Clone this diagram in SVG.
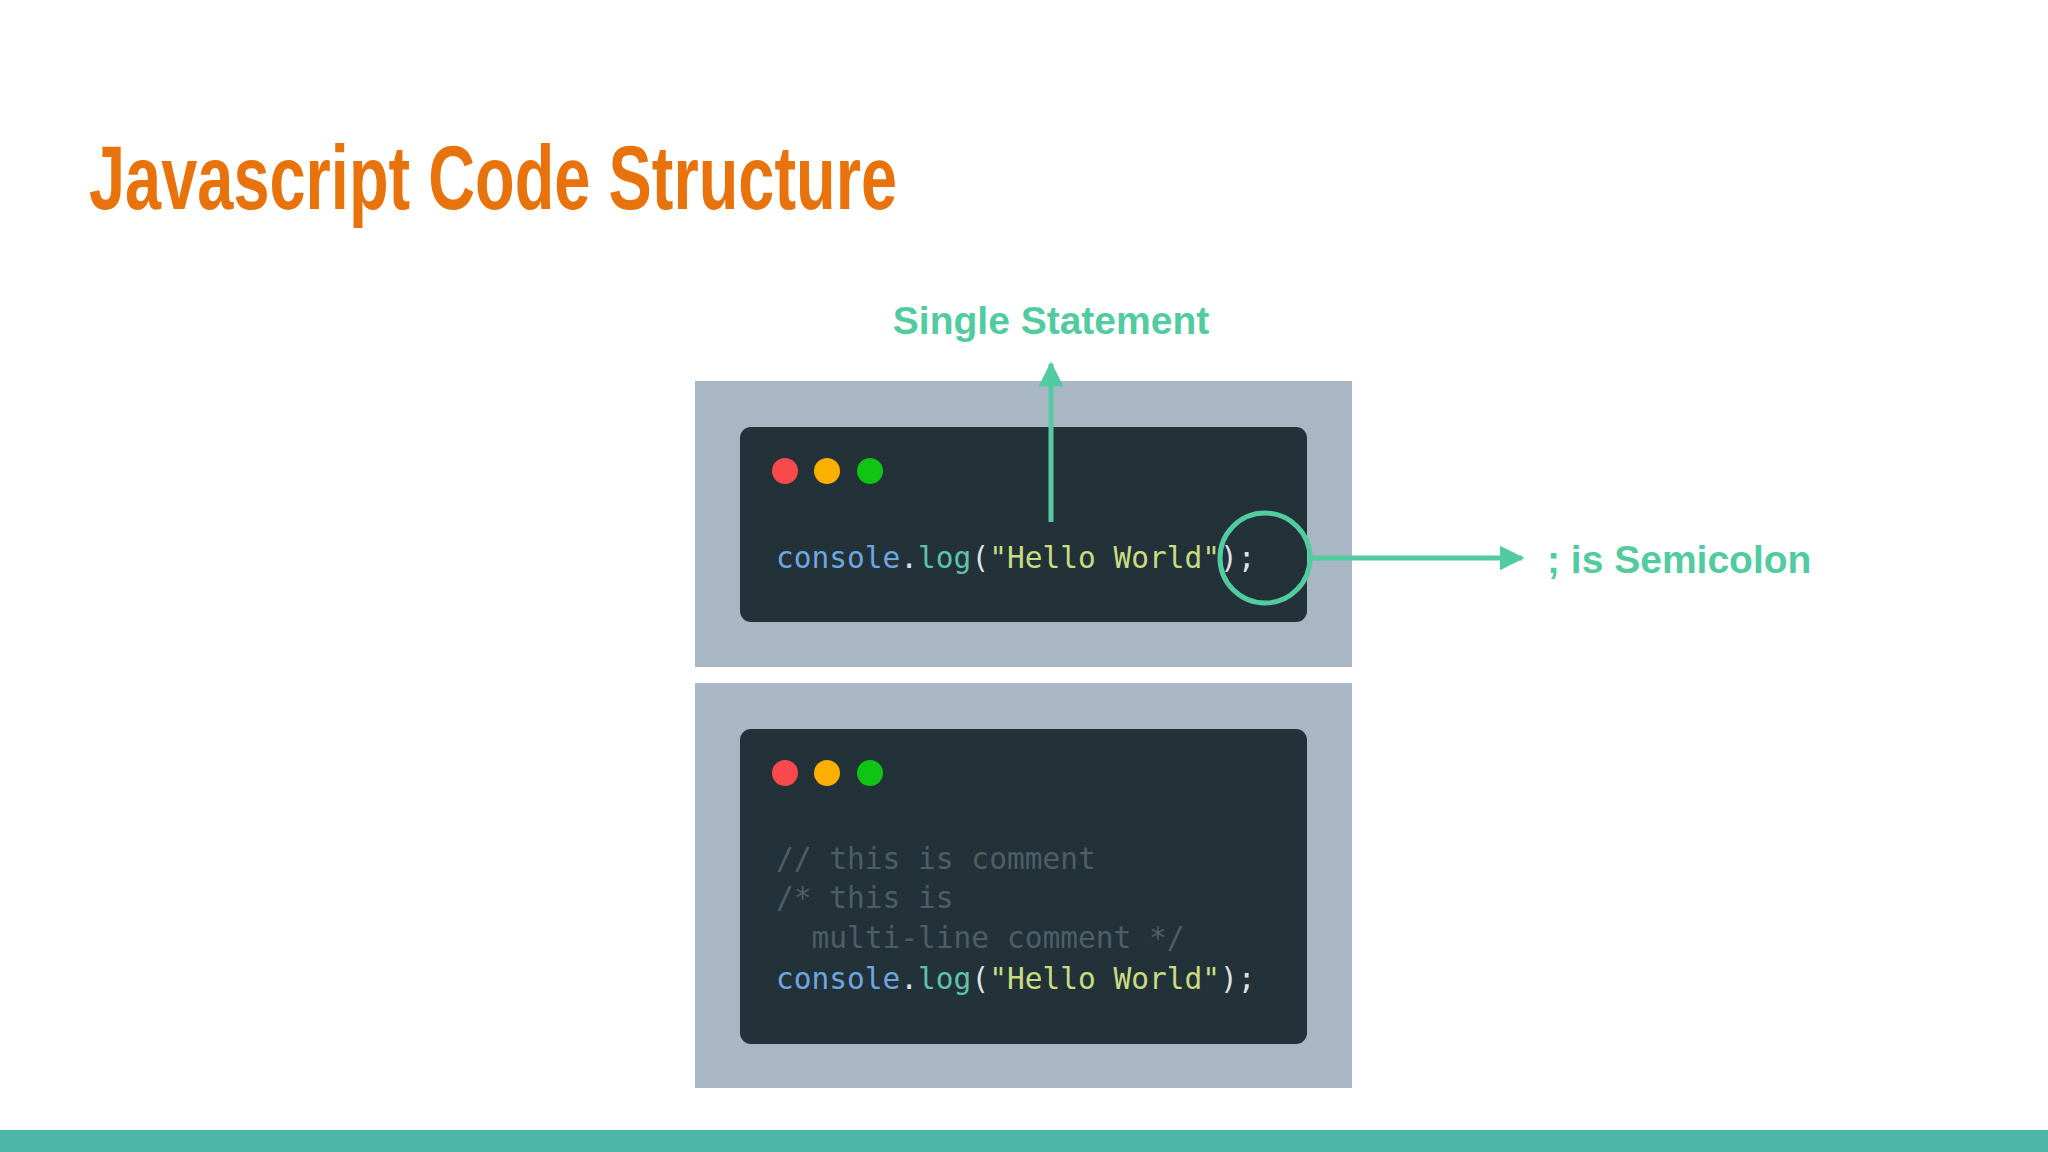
<svg xmlns="http://www.w3.org/2000/svg" width="2048" height="1152" viewBox="0 0 2048 1152">
<defs>
<style>
.code{font-family:"DejaVu Sans Mono","Liberation Mono",monospace;font-size:29.5px}
.c{fill:#6ea6e0}.l{fill:#5fc2ad}.s{fill:#c8dc82}.p{fill:#dfe3e6}.cm{fill:#4d5f66}
.lab{font-family:"Liberation Sans",Arial,sans-serif;font-weight:bold;font-size:39px;fill:#52cba0}
.panel{fill:#a9b7c4}.win{fill:#233139}
</style>
<marker id="ah" viewBox="0 0 10 10" refX="9" refY="5" markerWidth="5" markerHeight="5" orient="auto"><path d="M0,0 L10,5 L0,10 z" fill="#52cba0"/></marker>
</defs>
<rect width="2048" height="1152" fill="#fff"/>
<text x="89" y="209" font-family="Liberation Sans,Arial,sans-serif" font-weight="bold" font-size="90" fill="#e8720c" textLength="808" lengthAdjust="spacingAndGlyphs">Javascript Code Structure</text>
<g id="top">
<rect class="panel" x="695" y="381" width="657" height="286"/>
<rect class="win" x="740" y="427" width="567" height="195" rx="11"/>
<circle cx="785" cy="471" r="13" fill="#f84a4a"/><circle cx="827" cy="471" r="13" fill="#fbb000"/><circle cx="870" cy="471" r="13" fill="#10c414"/>
<text class="code" x="776" y="568"><tspan class="c">console</tspan><tspan class="p">.</tspan><tspan class="l">log</tspan><tspan class="p">(</tspan><tspan class="s">"Hello World"</tspan><tspan class="p">);</tspan></text>
<circle cx="1265" cy="558" r="45" fill="none" stroke="#52cba0" stroke-width="5"/>
</g>
<g id="bottom">
<rect class="panel" x="695" y="683" width="657" height="405" fill="#a8b2c2"/>
<rect class="win" x="740" y="729" width="567" height="315" rx="11" fill="#21323a"/>
<circle cx="785" cy="773" r="13" fill="#f84a4a"/><circle cx="827" cy="773" r="13" fill="#fbb000"/><circle cx="870" cy="773" r="13" fill="#10c414"/>
<text class="code cm" x="776" y="869">// this is comment</text>
<text class="code cm" x="776" y="908">/* this is</text>
<text class="code cm" x="776" y="948" xml:space="preserve">  multi-line comment */</text>
<text class="code" x="776" y="989"><tspan class="c">console</tspan><tspan class="p">.</tspan><tspan class="l">log</tspan><tspan class="p">(</tspan><tspan class="s">"Hello World"</tspan><tspan class="p">);</tspan></text>
</g>
<g id="connectors" stroke="#52cba0" stroke-width="5" fill="none">
<line x1="1051" y1="522" x2="1051" y2="364" marker-end="url(#ah)"/>
<line x1="1310" y1="558" x2="1522" y2="558" marker-end="url(#ah)"/>
</g>
<g id="labels">
<text class="lab" x="1051" y="334" text-anchor="middle">Single Statement</text>
<text class="lab" x="1547" y="573">; is Semicolon</text>
</g>
<rect x="0" y="1130" width="2048" height="22" fill="#4db6a8"/>
</svg>
